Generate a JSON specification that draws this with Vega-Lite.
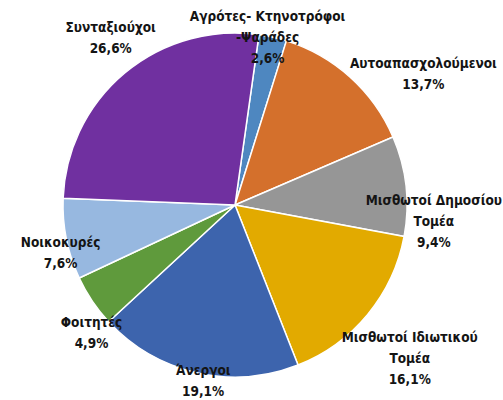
{
  "$schema": "https://vega.github.io/schema/vega-lite/v6.json",
  "autosize": {"type": "none"},
  "width": 470,
  "height": 390,
  "padding": {"left": 0, "right": 33, "top": 10, "bottom": 0},
  "background": "white",
  "view": {"stroke": null},
  "data": {
    "values": [
      {"idx": 1, "cat": "Αγρότες- Κτηνοτρόφοι -Ψαράδες", "value": 2.6, "label": "Αγρότες- Κτηνοτρόφοι\n-Ψαράδες\n2,6%"},
      {"idx": 2, "cat": "Αυτοαπασχολούμενοι", "value": 13.7, "label": "Αυτοαπασχολούμενοι\n13,7%"},
      {"idx": 3, "cat": "Μισθωτοί Δημοσίου Τομέα", "value": 9.4, "label": "Μισθωτοί Δημοσίου\nΤομέα\n9,4%"},
      {"idx": 4, "cat": "Μισθωτοί Ιδιωτικού Τομέα", "value": 16.1, "label": "Μισθωτοί Ιδιωτικού\nΤομέα\n16,1%"},
      {"idx": 5, "cat": "Άνεργοι", "value": 19.1, "label": "Άνεργοι\n19,1%"},
      {"idx": 6, "cat": "Φοιτητές", "value": 4.9, "label": "Φοιτητές\n4,9%"},
      {"idx": 7, "cat": "Νοικοκυρές", "value": 7.6, "label": "Νοικοκυρές\n7,6%"},
      {"idx": 8, "cat": "Συνταξιούχοι", "value": 26.6, "label": "Συνταξιούχοι\n26,6%"}
    ]
  },
  "encoding": {
    "theta": {"field": "value", "type": "quantitative", "stack": true, "scale": {"range": [0.14, 6.4232]}},
    "order": {"field": "idx", "type": "quantitative"}
  },
  "layer": [
    {
      "mark": {"type": "arc", "outerRadius": 172, "stroke": "white", "strokeWidth": 1.5},
      "encoding": {
        "color": {
          "field": "cat", "type": "nominal", "legend": null,
          "scale": {
            "domain": ["Αγρότες- Κτηνοτρόφοι -Ψαράδες", "Αυτοαπασχολούμενοι", "Μισθωτοί Δημοσίου Τομέα", "Μισθωτοί Ιδιωτικού Τομέα", "Άνεργοι", "Φοιτητές", "Νοικοκυρές", "Συνταξιούχοι"],
            "range": ["#4e87c0", "#d4702c", "#969696", "#e2aa00", "#3d64ad", "#5f9a3c", "#97b8e0", "#7030a0"]
          }
        }
      }
    },
    {
      "mark": {
        "type": "text",
        "radius": {"expr": "[0, 171, 223, 196, 233, 179, 191, 181, 208][datum.idx]"},
        "dx": {"expr": "[0, -5, 39, 4, -5, 8, 15, 3, 9][datum.idx]"},
        "dy": {"expr": "[0, 0, 35, 39, 6, 2, 22, 13, -7][datum.idx] - (length(split(datum.label, '\\n')) - 1) * 10.5"},
        "lineBreak": "\n", "font": "DejaVu Sans Condensed", "fontWeight": "bold", "fontSize": 13.5, "lineHeight": 21, "color": "#141414", "align": "center", "baseline": "middle"
      },
      "encoding": {"text": {"field": "label", "type": "nominal"}}
    }
  ]
}
